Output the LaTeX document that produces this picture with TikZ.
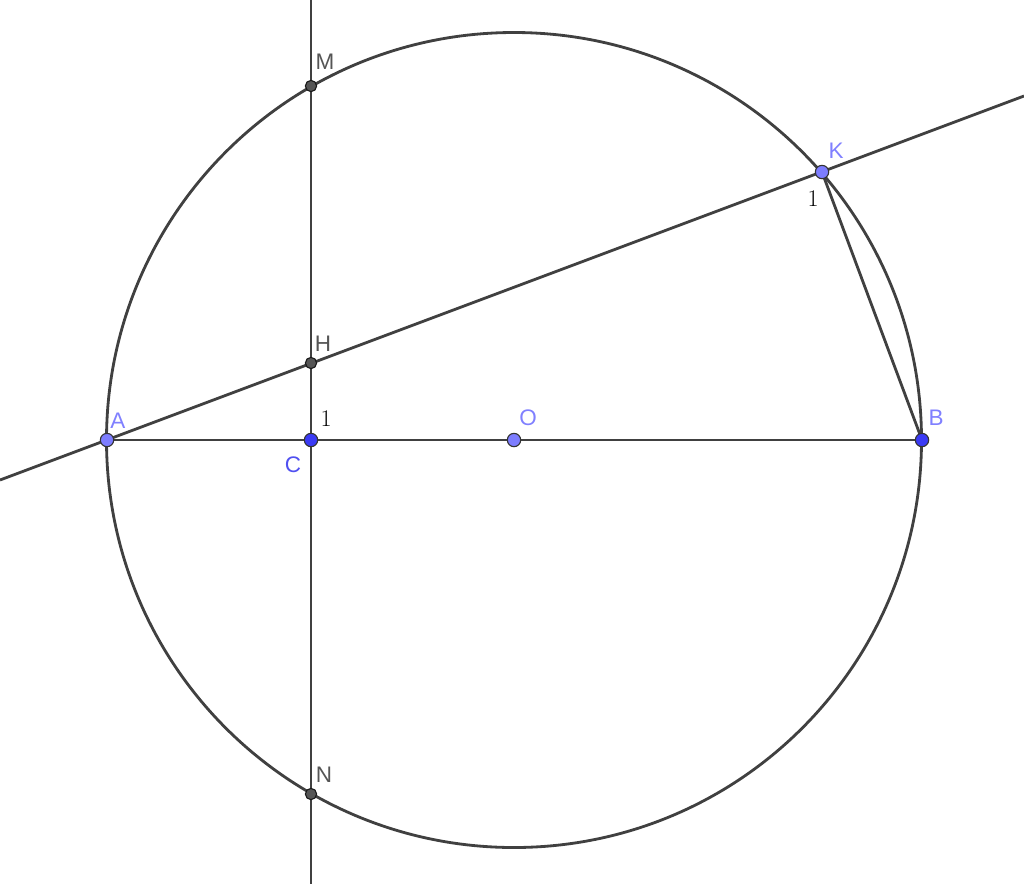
\documentclass[tikz,border=0pt]{standalone}
\usepackage{fontspec}
\setsansfont{Liberation Sans}
\usetikzlibrary{calc,backgrounds}
\definecolor{lgray}{HTML}{404040}
\definecolor{ptlight}{HTML}{7D7DFF}
\definecolor{ptdark}{HTML}{3A3AF5}
\definecolor{lbblue}{HTML}{8080FF}
\definecolor{lbdark}{HTML}{5050F0}
\definecolor{lbgray}{HTML}{555555}

\begin{document}
\begin{tikzpicture}[x=0.025cm,y=-0.025cm,
ln/.style={draw=lgray,line width=2pt},
ptl/.style={circle,draw=black!80,fill=ptlight,line width=0.8pt,inner sep=0pt,minimum size=9.5pt},
ptd/.style={circle,draw=black!80,fill=ptdark,line width=0.8pt,inner sep=0pt,minimum size=9.5pt},
ptg/.style={circle,draw=black!90,fill=lbgray,line width=0.8pt,inner sep=0pt,minimum size=8pt},
lbb/.style={text=lbblue,font=\sffamily\fontsize{16}{19}\selectfont},
lbd/.style={text=lbdark,font=\sffamily\fontsize{16}{19}\selectfont},
lbg/.style={text=lbgray,font=\sffamily\fontsize{16}{19}\selectfont},
ang/.style={text=black,font=\fontsize{17}{20}\selectfont}]
\useasboundingbox (0,0) rectangle (1024,884);

\coordinate (top) at (311,0);
\coordinate (bot) at (311,884);
\coordinate (left) at (0,480);
\coordinate (right) at (1024,96);

\node (O) at (514,440) [ptl] {};
\node (A) at (107,440) [ptl] {};
\node (B) at (922,440) [ptd] {};
\node (C) at (311,440) [ptd] {};
\node (K) at (822,172) [ptl] {};
\node (M) at (311,86) [ptg] {};
\node (H) at (311,363) [ptg] {};
\node (N) at (311,794) [ptg] {};

\begin{pgfonlayer}{background}
\draw[ln] (514,440) circle (407.5);
\draw[ln] (top) -- (bot);
\draw[ln] (left) -- (right);
\draw[ln] (A.center) -- (B.center);
\draw[ln] (K.center) -- (B.center);
\end{pgfonlayer}

\node (lM) at (325,62) [lbg] {M};
\node (lH) at (323,344) [lbg] {H};
\node (lN) at (324,775) [lbg] {N};
\node (lA) at (118,421) [lbb] {A};
\node (lC) at (293,465) [lbd] {C};
\node (lO) at (528,418) [lbb] {O};
\node (lB) at (936,418) [lbb] {B};
\node (lK) at (836,151) [lbb] {K};
\node (a1) at (326,419) [ang] {1};
\node (a2) at (813,199) [ang] {1};

\end{tikzpicture}
\end{document}
